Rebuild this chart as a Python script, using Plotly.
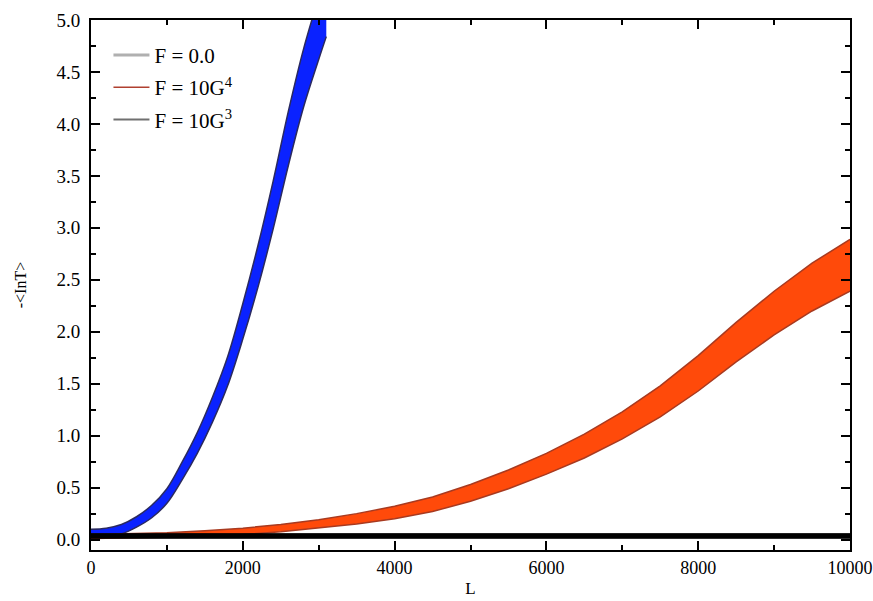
import plotly.graph_objects as go

# ---- data ----
# F = 10^-3 (blue band)
L_blue = [0, 200, 400, 600, 800, 1000, 1200, 1400, 1600, 1800, 2000, 2200, 2400, 2600, 2800, 3000, 3100]
y_blue = [0.06, 0.07, 0.10, 0.17, 0.27, 0.42, 0.66, 0.93, 1.25, 1.62, 2.10, 2.63, 3.22, 3.86, 4.44, 4.92, 5.15]
w_blue = [0.04, 0.04, 0.045, 0.05, 0.06, 0.07, 0.085, 0.10, 0.12, 0.14, 0.17, 0.20, 0.23, 0.26, 0.28, 0.30, 0.31]

# F = 10^-4 (orange band)
L_orange = [0, 500, 1000, 1500, 2000, 2500, 3000, 3500, 4000, 4500, 5000, 5500, 6000, 6500, 7000, 7500, 8000, 8500, 9000, 9500, 10000]
y_orange = [0.03, 0.035, 0.045, 0.06, 0.08, 0.11, 0.15, 0.20, 0.26, 0.34, 0.45, 0.58, 0.73, 0.90, 1.10, 1.33, 1.60, 1.90, 2.18, 2.43, 2.64]
w_orange = [0.02, 0.02, 0.022, 0.025, 0.03, 0.035, 0.04, 0.05, 0.06, 0.07, 0.08, 0.09, 0.10, 0.115, 0.13, 0.15, 0.17, 0.19, 0.21, 0.23, 0.25]

# F = 0.0 (black band)
L_black = [0, 2000, 4000, 6000, 8000, 10000]
y_black = [0.035, 0.035, 0.035, 0.035, 0.035, 0.035]
w_black = [0.022, 0.022, 0.022, 0.022, 0.022, 0.022]

legend_labels = ["F = 0.0", "F = 10G<sup>4</sup>", "F = 10G<sup>3</sup>"]
legend_colors = ["#b0b0b0", "#b04030", "#707070"]
legend_widths = [3, 1.5, 2]

x_ticks = [0, 2000, 4000, 6000, 8000, 10000]
y_ticks = [0.0, 0.5, 1.0, 1.5, 2.0, 2.5, 3.0, 3.5, 4.0, 4.5, 5.0]

fig = go.Figure()


def add_band(L, y, w, fill, edge, ew, shape):
    lo = [a - b for a, b in zip(y, w)]
    hi = [a + b for a, b in zip(y, w)]
    fig.add_trace(go.Scatter(x=L, y=lo, mode="lines", line=dict(color=edge, width=ew, shape=shape),
                             showlegend=False, hoverinfo="skip"))
    fig.add_trace(go.Scatter(x=L, y=hi, mode="lines", line=dict(color=edge, width=ew, shape=shape),
                             fill="tonexty", fillcolor=fill, showlegend=False, hoverinfo="skip"))


add_band(L_blue, y_blue, w_blue, "#0a22ff", "#2a2a60", 1.5, "spline")
add_band(L_orange, y_orange, w_orange, "#ff4a0a", "#a83a20", 1.5, "linear")
add_band(L_black, y_black, w_black, "#000000", "#000000", 1, "linear")

for i, (lab, col, lw) in enumerate(zip(legend_labels, legend_colors, legend_widths)):
    fig.add_trace(go.Scatter(x=[None], y=[None], mode="lines", name=lab,
                             line=dict(color=col, width=lw), legendgroup=str(i)))

font_family = "Liberation Serif, Times New Roman, serif"
fig.update_layout(
    width=873, height=601,
    margin=dict(l=91, r=23, t=20, b=51),
    paper_bgcolor="white", plot_bgcolor="white",
    font=dict(family=font_family, size=18, color="black"),
    showlegend=True,
    legend=dict(x=0.023, y=0.972, xanchor="left", yanchor="top", bgcolor="rgba(0,0,0,0)",
                font=dict(family=font_family, size=21), tracegroupgap=2, itemwidth=36),
)
fig.update_xaxes(
    range=[0, 10000], tickvals=x_ticks, ticktext=[str(v) for v in x_ticks],
    showgrid=False, zeroline=False, showline=True, linecolor="black", linewidth=2,
    mirror="allticks", ticks="inside", ticklen=9, tickwidth=2, tickcolor="black",
    minor=dict(dtick=1000, ticks="inside", ticklen=5, tickwidth=1.5, tickcolor="black"),
    title=dict(text="L", font=dict(family=font_family, size=17), standoff=6),
    tickfont=dict(family=font_family, size=18), automargin=False,
    ticklabeloverflow="allow",
)
fig.update_yaxes(
    range=[-0.1, 5.0], tickvals=y_ticks, ticktext=["%.1f" % v for v in y_ticks],
    showgrid=False, zeroline=False, showline=True, linecolor="black", linewidth=2,
    mirror="allticks", ticks="inside", ticklen=9, tickwidth=2, tickcolor="black",
    minor=dict(dtick=0.25, ticks="inside", ticklen=5, tickwidth=1.5, tickcolor="black"),
    title=dict(text="-&lt;InT&gt;", font=dict(family=font_family, size=16), standoff=26),
    tickfont=dict(family=font_family, size=19), automargin=False, ticklabelstandoff=5,
    ticklabeloverflow="allow",
)

# remove the browser's default 8px page margin so the figure fills the window
fig.write_html("out.html", config={"displayModeBar": False},
               post_script="document.body.style.margin='0';")
